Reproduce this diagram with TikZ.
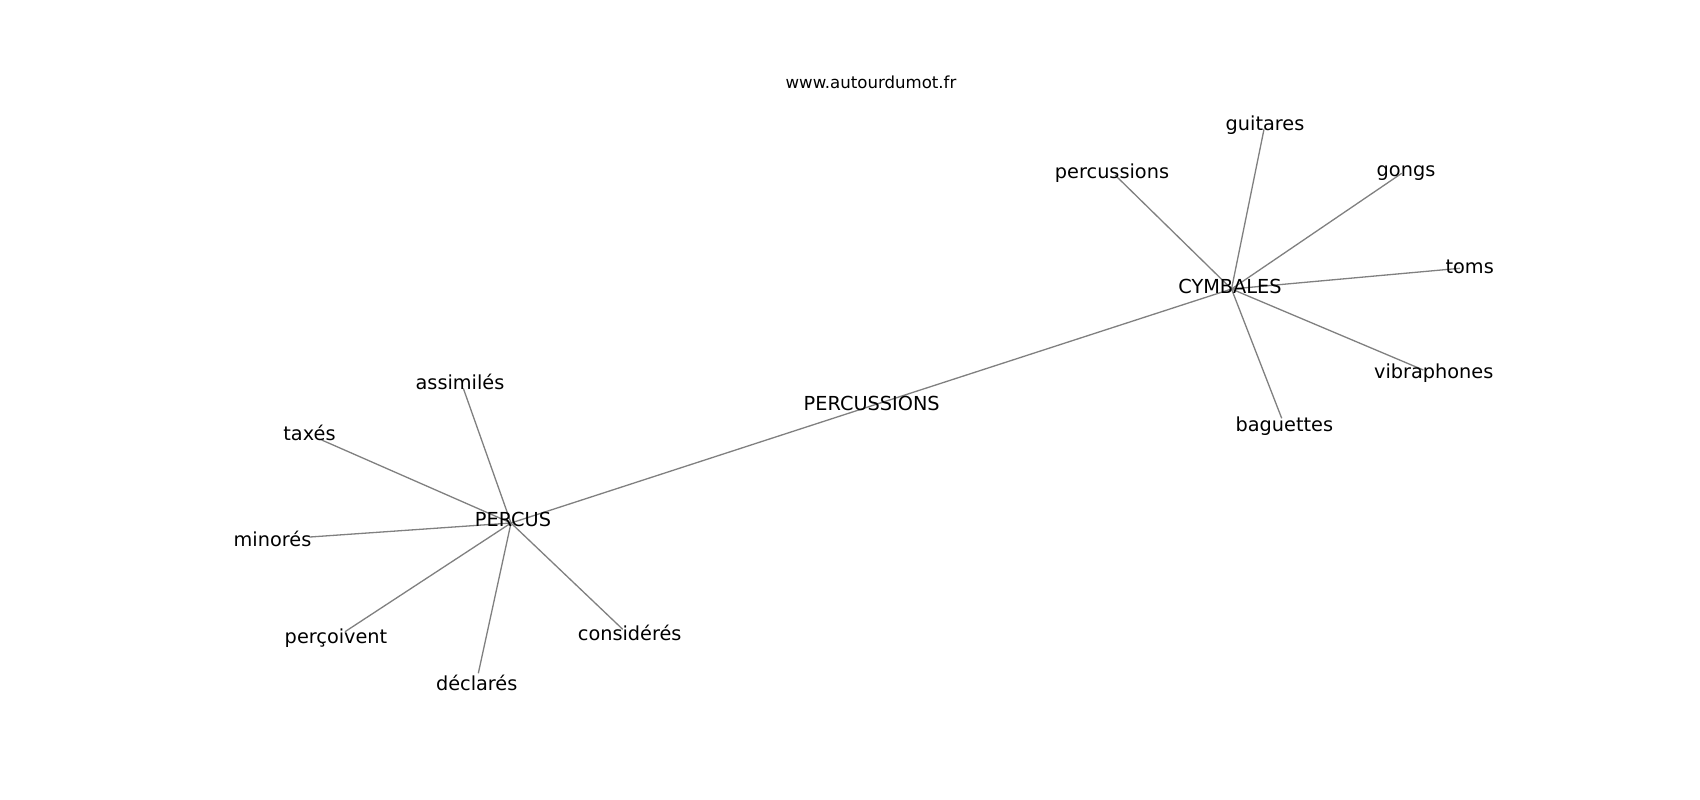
\documentclass[tikz,border=0pt]{standalone}
\usepackage{fontspec}
\setmainfont{DejaVu Sans}
\begin{document}
\begin{tikzpicture}[x=1pt,y=-1pt,
  edge/.style={draw=black!50,line width=1.3pt},
  lbl/.style={anchor=base,inner sep=0pt,font=\fontsize{19.3}{23}\selectfont},
  url/.style={anchor=base,inner sep=0pt,font=\fontsize{16.6}{20}\selectfont}]
\useasboundingbox[fill=white] (0,0) rectangle (1700,800);
% node positions (graph vertices)
\coordinate (vPERCUS) at (511,523);
\coordinate (vCYMBALES) at (1231.5,289);
\coordinate (vPERCUSSIONS) at (871,406);
\coordinate (vassimiles) at (463.3,388.3);
\coordinate (vtaxes) at (321.7,440);
\coordinate (vminores) at (310,537);
\coordinate (vpercoivent) at (345,631.7);
\coordinate (vconsideres) at (622.7,629.3);
\coordinate (vdeclares) at (478.3,673.3);
\coordinate (vpercussions) at (1115,175);
\coordinate (vguitares) at (1264,129.3);
\coordinate (vgongs) at (1401.7,173.3);
\coordinate (vtoms) at (1460,268.3);
\coordinate (vvibraphones) at (1423.3,370);
\coordinate (vbaguettes) at (1281.7,418.3);
% edges
\draw[edge] (vPERCUS) -- (vPERCUSSIONS) -- (vCYMBALES);
\foreach \n in {assimiles,taxes,minores,percoivent,consideres,declares}
  \draw[edge] (vPERCUS) -- (v\n);
\foreach \n in {percussions,guitares,gongs,toms,vibraphones,baguettes}
  \draw[edge] (vCYMBALES) -- (v\n);
% labels
\node[url] (url) at (871,88.5) {www.autourdumot.fr};
\node[lbl] (PERCUS) at (513,526.5) {PERCUS};
\node[lbl] (PERCUSSIONS) at (871.7,410) {PERCUSSIONS};
\node[lbl] (CYMBALES) at (1230,293.3) {CYMBALES};
\node[lbl] (assimiles) at (460,389.3) {assimilés};
\node[lbl] (taxes) at (309.5,440) {taxés};
\node[lbl] (minores) at (272.5,546.7) {minorés};
\node[lbl] (percoivent) at (336,643.3) {perçoivent};
\node[lbl] (consideres) at (629.7,640.7) {considérés};
\node[lbl] (declares) at (476.7,690) {déclarés};
\node[lbl] (percussions) at (1112,178.3) {percussions};
\node[lbl] (guitares) at (1265,130.7) {guitares};
\node[lbl] (gongs) at (1406,176) {gongs};
\node[lbl] (toms) at (1469.7,273.3) {toms};
\node[lbl] (vibraphones) at (1433.7,378) {vibraphones};
\node[lbl] (baguettes) at (1284.3,431.7) {baguettes};
\end{tikzpicture}
\end{document}
